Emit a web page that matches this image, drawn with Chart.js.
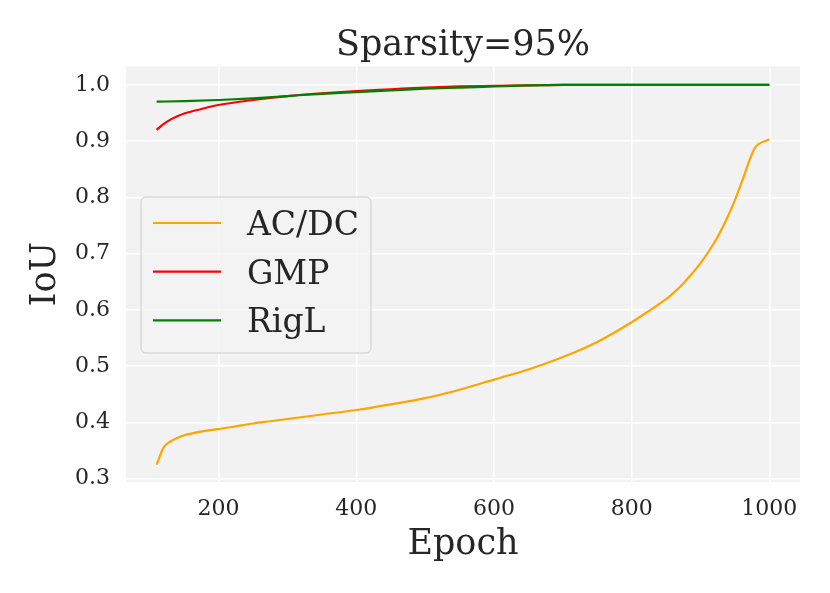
<!DOCTYPE html>
<html>
<head>
<meta charset="utf-8">
<script src="https://cdn.jsdelivr.net/npm/chart.js@4"></script>
<style>
  html, body { margin: 0; padding: 0; background: #fff; }
  #wrap { width: 830px; height: 593px; }
</style>
</head>
<body>
<div id="wrap"><canvas id="chart"></canvas></div>
<script>
// values
const acdcEpochs = [110, 120, 130, 140, 150, 160, 180, 200, 225, 250, 275, 300, 350, 400, 450, 500, 550, 600, 650, 700, 750, 800, 825, 850, 862.5, 875, 887.5, 900, 912.5, 925, 937.5, 950, 962.5, 970, 979, 1000];
const acdcIoU    = [0.325, 0.355, 0.366, 0.372, 0.377, 0.380, 0.385, 0.388, 0.393, 0.398, 0.402, 0.406, 0.414, 0.422, 0.432, 0.443, 0.458, 0.476, 0.494, 0.516, 0.543, 0.578, 0.598, 0.619, 0.632, 0.647, 0.664, 0.683, 0.705, 0.730, 0.760, 0.795, 0.836, 0.862, 0.888, 0.903];

const gmpEpochs = [110, 120, 130, 140, 150, 175, 200, 250, 300, 350, 400, 450, 500, 550, 600, 650, 700, 800, 900, 1000];
const gmpIoU    = [0.920, 0.930, 0.938, 0.944, 0.949, 0.957, 0.964, 0.973, 0.980, 0.985, 0.989, 0.992, 0.995, 0.997, 0.998, 0.999, 1.0, 1.0, 1.0, 1.0];

const riglEpochs = [110, 150, 200, 250, 300, 350, 400, 450, 500, 550, 600, 650, 700, 800, 900, 1000];
const riglIoU    = [0.970, 0.971, 0.973, 0.976, 0.980, 0.984, 0.987, 0.990, 0.993, 0.995, 0.997, 0.999, 1.0, 1.0, 1.0, 1.0];

const xTicks = [200, 400, 600, 800, 1000];
const yTicks = [0.3, 0.4, 0.5, 0.6, 0.7, 0.8, 0.9, 1.0];

const toPoints = (xs, ys) => xs.map((x, i) => ({ x, y: ys[i] }));
const FONT = "'DejaVu Serif', 'Liberation Serif', serif";
const TEXT = '#262626';

// grey plot background
const plotBg = {
  id: 'plotBg',
  beforeDraw(chart) {
    const { ctx, chartArea: a } = chart;
    ctx.save();
    ctx.fillStyle = '#f2f2f2';
    ctx.fillRect(a.left, a.top, a.right - a.left, a.bottom - a.top);
    ctx.restore();
  }
};

// legend box inside the plot, like matplotlib's
const innerLegend = {
  id: 'innerLegend',
  afterDatasetsDraw(chart) {
    const { ctx } = chart;
    const x = 141, y = 197, w = 230, h = 156, r = 5;
    ctx.save();
    ctx.beginPath();
    ctx.roundRect(x, y, w, h, r);
    ctx.fillStyle = 'rgba(242,242,242,0.8)';
    ctx.fill();
    ctx.lineWidth = 1;
    ctx.strokeStyle = '#cccccc';
    ctx.stroke();
    ctx.font = '33px ' + FONT;
    ctx.textAlign = 'left';
    ctx.textBaseline = 'alphabetic';
    chart.data.datasets.forEach((ds, i) => {
      const ly = 223 + i * 48.7;
      ctx.beginPath();
      ctx.moveTo(153, ly);
      ctx.lineTo(221, ly);
      ctx.strokeStyle = ds.borderColor;
      ctx.lineWidth = 2.2;
      ctx.stroke();
      ctx.fillStyle = TEXT;
      ctx.fillText(ds.label, 247, ly + 12);
    });
    ctx.restore();
  }
};

new Chart(document.getElementById('chart'), {
  type: 'line',
  data: {
    datasets: [
      // higher order is drawn first, so RigL ends on top like the reference
      { label: 'AC/DC', data: toPoints(acdcEpochs, acdcIoU), borderColor: '#ffa500', order: 2 },
      { label: 'GMP', data: toPoints(gmpEpochs, gmpIoU), borderColor: '#ff0000', order: 1 },
      { label: 'RigL', data: toPoints(riglEpochs, riglIoU), borderColor: '#008000', order: 0 }
    ]
  },
  options: {
    responsive: true,
    maintainAspectRatio: false,
    animation: false,
    layout: { padding: { left: 0, right: 30, top: 0, bottom: 0 } },
    elements: {
      line: { borderWidth: 2.2, cubicInterpolationMode: 'monotone', fill: false },
      point: { radius: 0 }
    },
    plugins: {
      legend: { display: false },
      tooltip: { enabled: false },
      title: {
        display: true,
        text: 'Sparsity=95%',
        fullSize: false,
        color: TEXT,
        font: { family: FONT, size: 35, weight: 'normal', lineHeight: 1.1 },
        padding: { top: 27, bottom: 1 }
      }
    },
    scales: {
      x: {
        type: 'linear',
        min: 65.5,
        max: 1044.5,
        afterBuildTicks: s => { s.ticks = xTicks.map(v => ({ value: v })); },
        afterFit: s => { s.height = 111; },
        grid: { color: '#ffffff', lineWidth: 1.5, drawTicks: false },
        border: { display: false },
        ticks: { color: TEXT, padding: 14, maxRotation: 0, font: { family: FONT, size: 22 },
                 callback: v => String(v) },
        title: {
          display: true, text: 'Epoch', color: TEXT,
          font: { family: FONT, size: 35 },
          padding: { top: 0, bottom: 27 }
        }
      },
      y: {
        min: 0.294,
        max: 1.0325,
        afterBuildTicks: s => { s.ticks = yTicks.map(v => ({ value: v })); },
        afterFit: s => { s.width = 126; },
        grid: { color: '#ffffff', lineWidth: 1.5, drawTicks: false },
        border: { display: false },
        ticks: { color: TEXT, padding: 16, font: { family: FONT, size: 22 },
                 callback: v => v.toFixed(1) },
        title: {
          display: true, text: 'IoU', color: TEXT,
          font: { family: FONT, size: 35 },
          padding: { top: 25, bottom: 0 }
        }
      }
    }
  },
  plugins: [plotBg, innerLegend]
});
</script>
</body>
</html>
